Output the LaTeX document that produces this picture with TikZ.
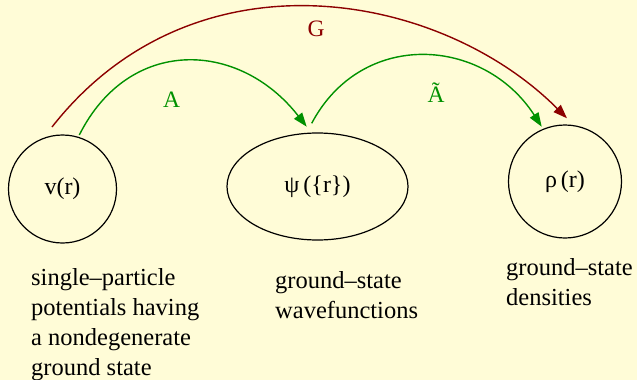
\documentclass[tikz,border=0pt]{standalone}
\usepackage{fontspec}
\setmainfont{Liberation Serif}
\usetikzlibrary{arrows.meta,shapes.geometric}
\definecolor{bg}{RGB}{255,252,215}
\definecolor{mapred}{RGB}{140,0,0}
\definecolor{mapgreen}{RGB}{0,145,0}
\begin{document}
\begin{tikzpicture}[x=1pt,y=-1pt,
  state/.style={draw=black,line width=1.2pt,inner sep=0pt,font=\fontsize{24}{28}\selectfont},
  lbl/.style={font=\fontsize{24.5}{29.7}\selectfont,align=left,inner sep=0pt,anchor=base west},
  maplabel/.style={font=\fontsize{23.5}{27}\selectfont,inner sep=0pt,anchor=base},
  map/.style={line width=1.4pt,-{Triangle[length=14pt,width=10pt]}}
]
\fill[bg] (0,0) rectangle (637,380);
\useasboundingbox (0,0) rectangle (637,380);
% states
\node[state,circle,minimum size=108pt] (v) at (62.5,189) {v(r)};
\node[state,ellipse,minimum width=181pt,minimum height=107pt] (psi) at (317.5,186.5) {ψ\,(\{r\})};
\node[state,circle,minimum size=113pt] (rho) at (565,181.5) {ρ\,(r)};
% descriptions (anchored at the baseline of the last line)
\node[lbl] (vtxt) at (31,375) {single–particle\\potentials having\\a nondegenerate\\ground state};
\node[lbl] (psitxt) at (275,318) {ground–state\\wavefunctions};
\node[lbl] (rhotxt) at (506,305) {ground–state\\densities};
% connector ends
\coordinate (gs) at (52,127);
\coordinate (ge) at (567,118.3);
\coordinate (as) at (79.3,135);
\coordinate (ae) at (306.7,126.7);
\coordinate (ts) at (311.7,123.3);
\coordinate (te) at (541.7,126.7);
% maps
\draw[map,mapred] (gs) .. controls (194,-54) and (440,-9) .. (ge);
\draw[map,mapgreen] (as) .. controls (129,36) and (239,40) .. (ae);
\draw[map,mapgreen] (ts) .. controls (362,28.5) and (484,37) .. (te);
\node[maplabel,text=mapred] (glab) at (316,36.7) {G};
\node[maplabel,text=mapgreen] (alab) at (171.7,107.3) {A};
\node[maplabel,text=mapgreen] (tlab) at (436,102.7) {Ã};
\end{tikzpicture}
\end{document}
